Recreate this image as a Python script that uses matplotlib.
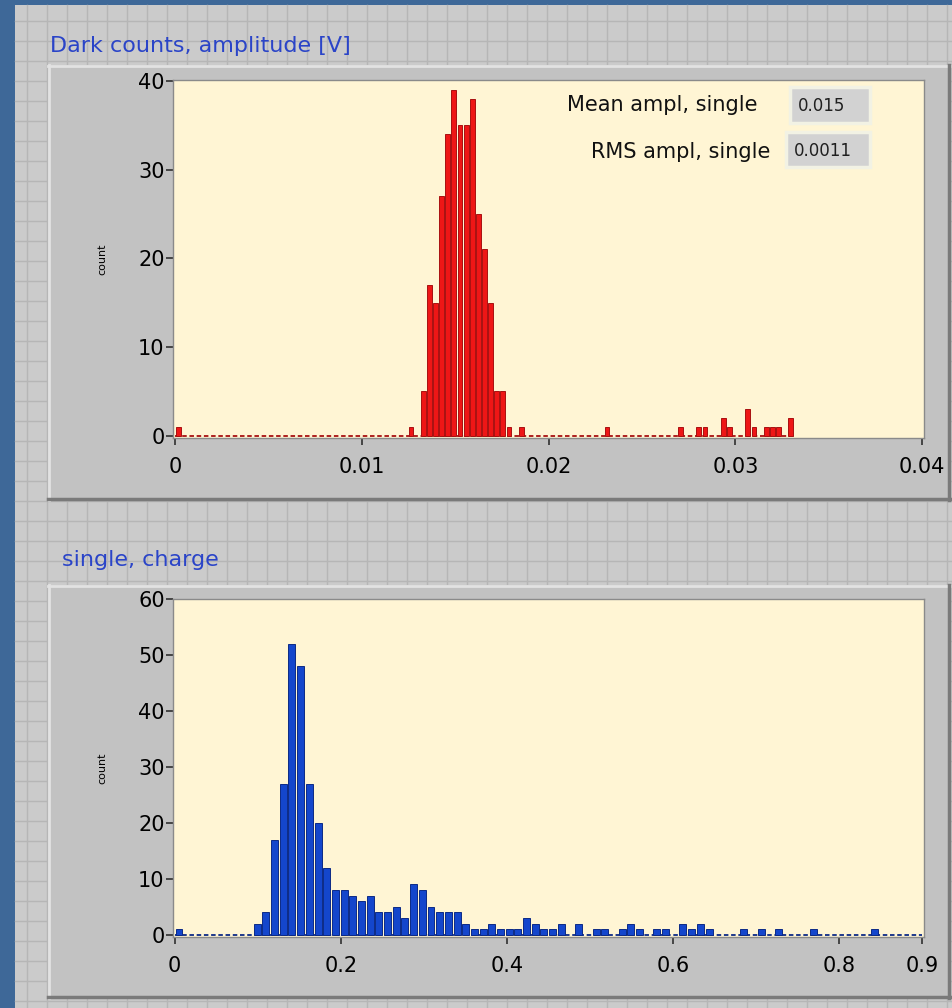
import matplotlib.pyplot as plt
import numpy as np
from matplotlib.patches import Rectangle

W, H = 953, 1008

# amplitude histogram of dark counts (101 bins starting at 0 V)
amp_bin_width = 0.000328
amp_counts = [
    1, 0, 0, 0, 0, 0, 0, 0, 0, 0, 0, 0, 0, 0, 0, 0, 0, 0, 0, 0,
    0, 0, 0, 0, 0, 0, 0, 0, 0, 0, 0, 0, 0, 0, 0, 0, 0, 0, 1, 0,
    5, 17, 15, 27, 34, 39, 35, 35, 38, 25, 21, 15, 5, 5, 1, 0, 1, 0, 0, 0,
    0, 0, 0, 0, 0, 0, 0, 0, 0, 0, 1, 0, 0, 0, 0, 0, 0, 0, 0, 0,
    0, 0, 1, 0, 0, 1, 1, 0, 0, 2, 1, 0, 0, 3, 1, 0, 1, 1, 1, 0,
    2,
]
amp_xticks = [0, 0.01, 0.02, 0.03, 0.04]
amp_xlabels = ["0", "0.01", "0.02", "0.03", "0.04"]
amp_yticks = [0, 10, 20, 30, 40]
mean_ampl = "0.015"
rms_ampl = "0.0011"

# charge histogram of single photoelectrons (86 bins over 0..0.9)
charge_bin_width = 0.9 / 86
charge_counts = [
    1, 0, 0, 0, 0, 0, 0, 0, 0, 2, 4, 17, 27, 52, 48, 27, 20, 12, 8, 8,
    7, 6, 7, 4, 4, 5, 3, 9, 8, 5, 4, 4, 4, 2, 1, 1, 2, 1, 1, 1,
    3, 2, 1, 1, 2, 0, 2, 0, 1, 1, 0, 1, 2, 1, 0, 1, 1, 0, 2, 1,
    2, 1, 0, 0, 0, 1, 0, 1, 0, 1, 0, 0, 0, 1, 0, 0, 0, 0, 0, 0,
    1, 0, 0, 0, 0, 0,
]
charge_xticks = [0, 0.2, 0.4, 0.6, 0.8, 0.9]
charge_xlabels = ["0", "0.2", "0.4", "0.6", "0.8", "0.9"]
charge_yticks = [0, 10, 20, 30, 40, 50, 60]

BLUE_BG = "#3e6898"
PANEL = "#cbcbcb"
PANEL_GRID = "#b6b6b6"
FRAME = "#c2c2c2"
PLOT_BG = "#fff5d4"
TITLE_COLOR = "#2a44c8"

plt.rcParams["font.family"] = ["DejaVu Sans"]


def px_axes(fig, left, top, right, bottom, **kw):
    return fig.add_axes([left / W, 1 - bottom / H, (right - left) / W, (bottom - top) / H], **kw)


def draw_frame(ax, x0, y0, x1, y1):
    ax.add_patch(Rectangle((x0, y0), x1 - x0, y1 - y0, facecolor=FRAME,
                           edgecolor="none", zorder=3))
    ax.plot([x0, x1], [y0 + 1, y0 + 1], color="#e2e2e2", lw=2, zorder=4)
    ax.plot([x0 + 1, x0 + 1], [y0, y1], color="#e2e2e2", lw=2, zorder=4)
    ax.plot([x0, x1], [y1 - 1, y1 - 1], color="#7a7a7a", lw=2.5, zorder=4)
    ax.plot([x1 - 1, x1 - 1], [y0, y1], color="#7a7a7a", lw=2.5, zorder=4)


def draw_hist(ax, counts, width, face, edge, xlim, ylim, xticks, xlabels, yticks):
    counts = np.array(counts)
    centers = (np.arange(len(counts)) + 0.5) * width
    ax.set_facecolor(PLOT_BG)
    ax.hlines(0, 0, len(counts) * width, colors=edge, linestyles=(0, (2.5, 1.5)), lw=1.3, zorder=2)
    nz = counts > 0
    ax.bar(centers[nz], counts[nz], width=width * 0.8, color=face, edgecolor=edge,
           linewidth=0.7, zorder=3)
    ax.set_xlim(*xlim)
    ax.set_ylim(*ylim)
    ax.set_xticks(xticks)
    ax.set_xticklabels(xlabels)
    ax.set_yticks(yticks)
    ax.tick_params(axis="both", length=5, width=1.2, color="#303030", labelsize=15)
    ax.tick_params(axis="x", pad=9)
    ax.tick_params(axis="y", pad=1)
    for s in ax.spines.values():
        s.set_color("#8a8a8a")
        s.set_linewidth(1)
    ax.set_ylabel("count", fontsize=8)
    ax.yaxis.set_label_coords(-0.087, 0.5)


fig = plt.figure(figsize=(W / 100, H / 100), dpi=100)
fig.patch.set_facecolor(BLUE_BG)

# front panel with its grid
bg = fig.add_axes([0, 0, 1, 1])
bg.set_xlim(0, W)
bg.set_ylim(H, 0)
bg.axis("off")
bg.add_patch(Rectangle((15, 5), W - 15, H - 5, facecolor=PANEL, edgecolor="none", zorder=1))
for x in np.arange(27, W, 20):
    bg.plot([x, x], [5, H], color=PANEL_GRID, lw=1, zorder=2)
for y in np.arange(21, H, 20):
    bg.plot([15, W], [y, y], color=PANEL_GRID, lw=1, zorder=2)

draw_frame(bg, 48, 65, 950, 500)
draw_frame(bg, 48, 585, 950, 998)
bg.text(50, 46, "Dark counts, amplitude [V]", color=TITLE_COLOR, fontsize=16, va="center", zorder=5)
bg.text(62, 560, "single, charge", color=TITLE_COLOR, fontsize=16, va="center", zorder=5)

ax1 = px_axes(fig, 173, 80, 924, 438)
draw_hist(ax1, amp_counts, amp_bin_width, "#ee1616", "#a81010",
          (-0.00012, 0.0401), (-0.25, 40.1), amp_xticks, amp_xlabels, amp_yticks)

ax2 = px_axes(fig, 173, 599, 924, 937)
draw_hist(ax2, charge_counts, charge_bin_width, "#1446cc", "#0c2a86",
          (-0.002, 0.9025), (-0.4, 60.05), charge_xticks, charge_xlabels, charge_yticks)

# indicators for mean and rms amplitude
ov = fig.add_axes([0, 0, 1, 1], zorder=5)
ov.set_xlim(0, W)
ov.set_ylim(H, 0)
ov.axis("off")
ov.patch.set_alpha(0)
for (x0, y0, x1, y1), val, label, lx, ly in [
    ((790, 87, 870, 123), mean_ampl, "Mean ampl, single", 758, 105),
    ((786, 132, 870, 167), rms_ampl, "RMS ampl, single", 770, 152),
]:
    ov.add_patch(Rectangle((x0, y0), x1 - x0, y1 - y0, facecolor="#d2d2d2",
                           edgecolor="#f2f2e4", lw=2.5))
    ov.text(x0 + 8, (y0 + y1) / 2 + 1, val, fontsize=12, va="center", color="#202020")
    ov.text(lx, ly, label, fontsize=15, ha="right", va="center", color="#111111")

fig.savefig("out.png", dpi=100, facecolor=fig.get_facecolor())
